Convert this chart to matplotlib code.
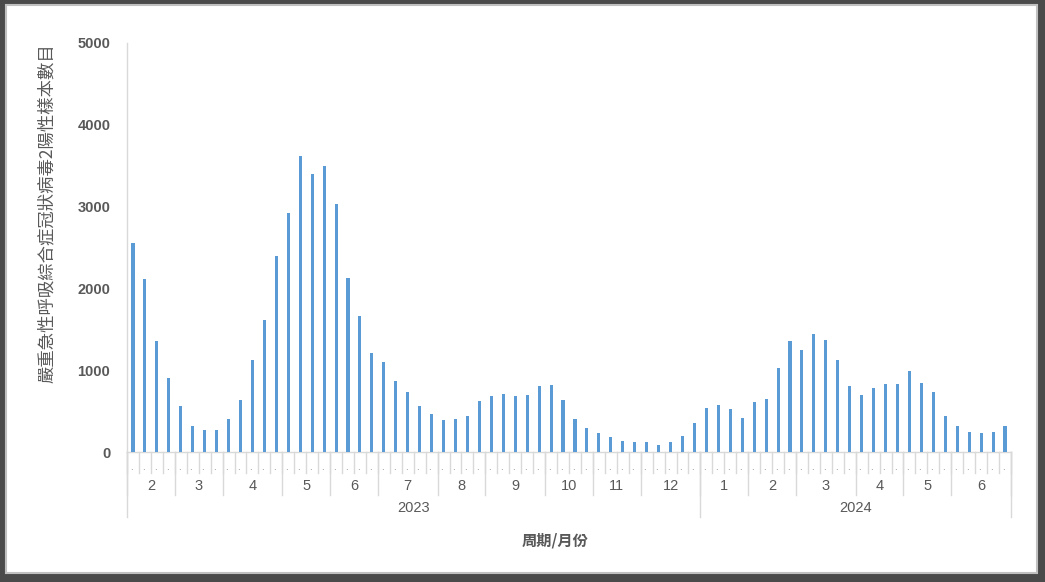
import matplotlib
matplotlib.use("Agg")
import matplotlib.pyplot as plt
import matplotlib.transforms as mtransforms
from matplotlib.patches import Rectangle
import numpy as np

# ---- data ----
values = [2560, 2120, 1360, 905, 560, 315, 265, 265, 405, 630,
          1120, 1615, 2400, 2925, 3620, 3400, 3495, 3035, 2125, 1660,
          1215, 1100, 870, 735, 560, 465, 390, 400, 445, 625,
          685, 710, 685, 700, 805, 815, 635, 405, 290, 235,
          180, 135, 120, 120, 85, 120, 195, 355, 540, 575,
          525, 415, 610, 645, 1025, 1355, 1245, 1445, 1370, 1125,
          805, 695, 780, 830, 830, 990, 840, 735, 440, 320,
          245, 235, 245, 320]
month_labels = ['2', '3', '4', '5', '6', '7', '8', '9', '10', '11', '12',
                '1', '2', '3', '4', '5', '6']
weeks_per_month = [4, 4, 5, 4, 4, 5, 4, 5, 4, 4, 5,
                   4, 4, 5, 4, 4, 5]
year_labels = ['2023', '2024']
months_per_year = [11, 6]
yticks = [0, 1000, 2000, 3000, 4000, 5000]
ylabel = '嚴重急性呼吸綜合症冠狀病毒2陽性樣本數目'
xlabel = '周期/月份'

CJK = ['Noto Sans CJK TC', 'DejaVu Sans']
LAT = ['Liberation Sans', 'DejaVu Sans']
GRAY = '#595959'
LINE = '#d9d9d9'

W, H = 1045, 582
fig = plt.figure(figsize=(W / 100, H / 100), dpi=100)
fig.patch.set_facecolor('#4a4a4a')
fig.patches.append(Rectangle((6 / W, 1 - 573 / H), (1037 - 6) / W, (573 - 5) / H,
                             transform=fig.transFigure, facecolor='white',
                             edgecolor='#c0c0c0', linewidth=1.5, zorder=-10))

ax_l, ax_r, ax_t, ax_b = 127, 1011, 43, 452
ax = fig.add_axes([ax_l / W, 1 - ax_b / H, (ax_r - ax_l) / W, (ax_b - ax_t) / H])
ax.set_zorder(5)
ax.set_facecolor('none')
axh = ax_b - ax_t

n = len(values)
x = np.arange(n)
ax.bar(x, values, width=0.26, color='#5B9BD5', zorder=3)
ax.set_xlim(-0.5, n - 0.5)
ax.set_ylim(0, 5000)

for s in ['top', 'right']:
    ax.spines[s].set_visible(False)
ax.spines['left'].set_visible(False)
ax.spines['bottom'].set_color(LINE)
ax.spines['bottom'].set_linewidth(1.0)

ax.set_yticks(yticks)
ax.set_yticklabels([str(t) for t in yticks], fontfamily=LAT, fontweight='bold',
                   fontsize=10.5, color=GRAY)
ax.tick_params(axis='y', length=0, pad=12)
ax.set_xticks([])

tr = mtransforms.blended_transform_factory(ax.transData, ax.transAxes)

def yf(px):
    return -px / axh

# week ticks and dots
for i in range(n + 1):
    ax.plot([i - 0.5, i - 0.5], [0, yf(21)], transform=tr, color=LINE,
            lw=1.0, clip_on=False)
for i in range(n):
    ax.text(i - 0.15, yf(15), '.', transform=tr, ha='center', va='center',
            fontsize=7, color='#808080', fontfamily=LAT)

# month dividers & labels
b = np.concatenate([[0], np.cumsum(weeks_per_month)])
for j, lab in enumerate(month_labels):
    ax.text((b[j] + b[j + 1] - 1) / 2, yf(34), lab, transform=tr, ha='center',
            va='center', fontsize=10.5, color=GRAY, fontfamily=LAT)
for k in b:
    ax.plot([k - 0.5, k - 0.5], [0, yf(43)], transform=tr, color=LINE,
            lw=1.0, clip_on=False)

# year dividers & labels
yb = np.concatenate([[0], np.cumsum(months_per_year)])
for j, lab in enumerate(year_labels):
    s, e = b[yb[j]], b[yb[j + 1]]
    ax.text((s + e - 1) / 2, yf(56), lab, transform=tr, ha='center',
            va='center', fontsize=10.5, color=GRAY, fontfamily=LAT)
for k in yb:
    ax.plot([b[k] - 0.5, b[k] - 0.5], [0, yf(65)], transform=tr, color=LINE,
            lw=1.0, clip_on=False)

# y axis line
ax.plot([-0.5, -0.5], [0, 1], transform=tr, color=LINE, lw=1.0, clip_on=False)

fig.text(555 / W, 1 - 541 / H, xlabel, ha='center', va='center', fontsize=11,
         fontweight='bold', color=GRAY, fontfamily=CJK)
fig.text(47 / W, 1 - 213 / H, ylabel, ha='center', va='center', rotation=90,
         fontsize=12.5, color=GRAY, fontfamily=CJK)

fig.savefig('out.png', dpi=100, facecolor=fig.get_facecolor())
